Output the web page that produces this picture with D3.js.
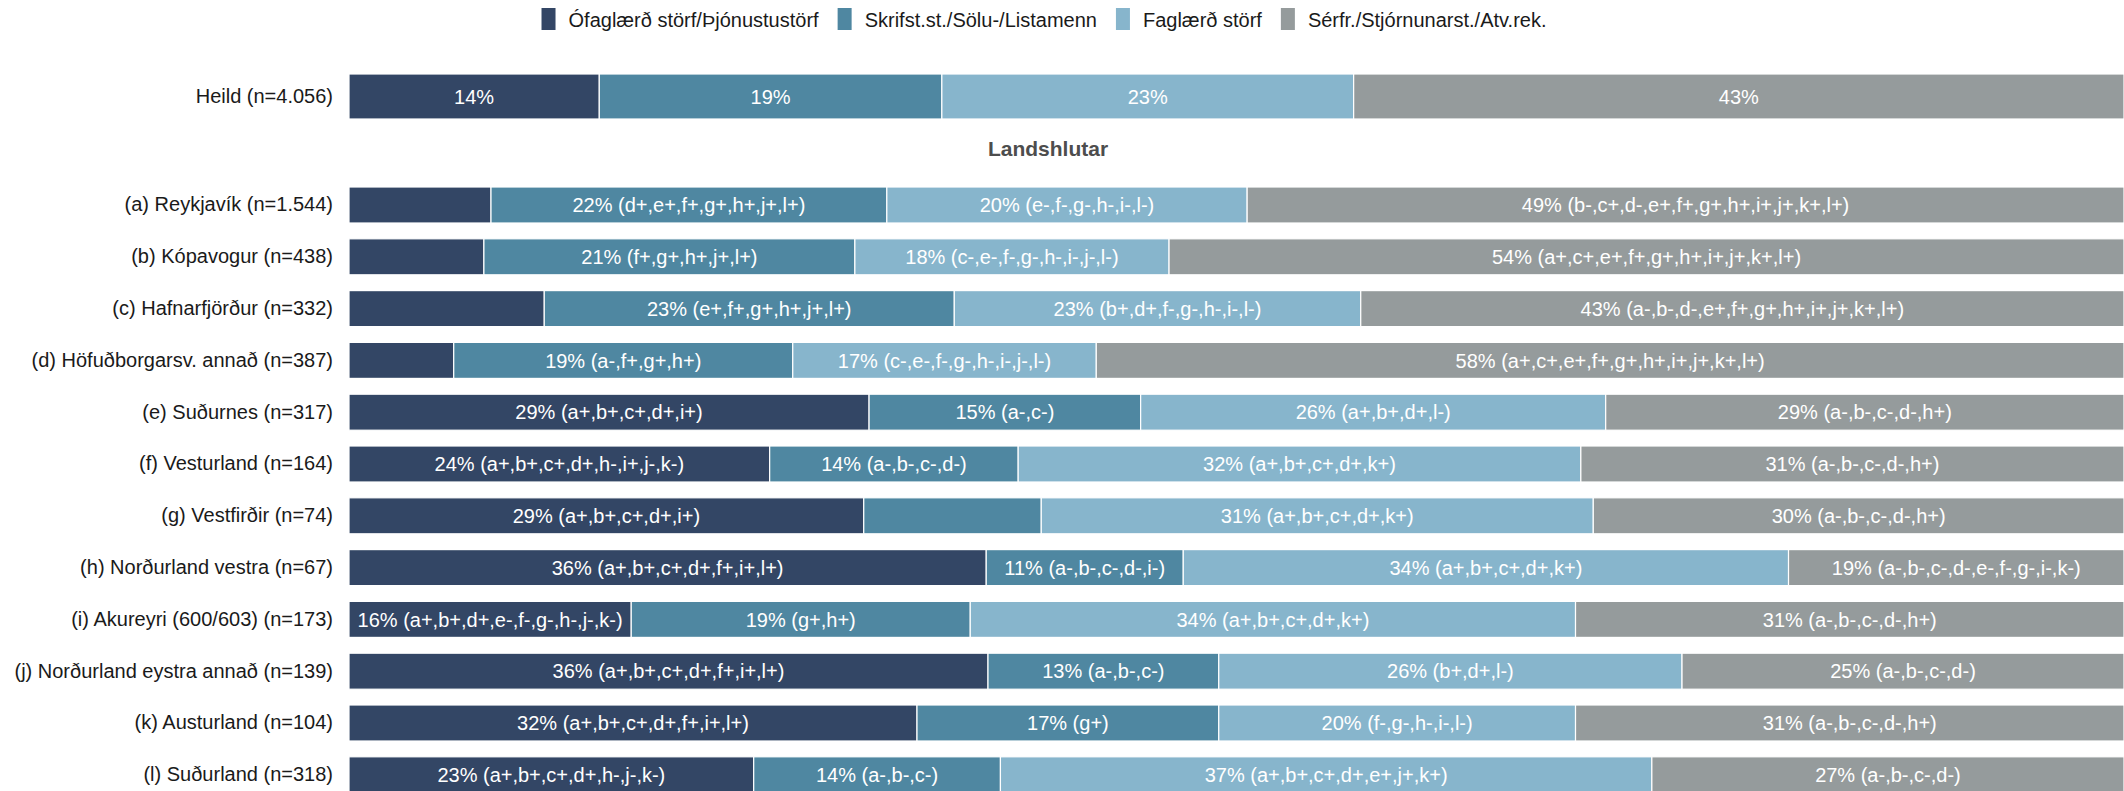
<!DOCTYPE html>
<html>
<head>
<meta charset="utf-8">
<script src="https://cdn.jsdelivr.net/npm/d3@7/dist/d3.min.js"></script>
<style>
  html, body { margin: 0; padding: 0; background: #ffffff; }
  svg { display: block; font-family: "Liberation Sans", Arial, sans-serif; }
</style>
</head>
<body>
<svg id="chart" width="2124" height="791"></svg>
<script>
// Occupational groups (stack order, left to right)
const seriesNames = [
  "Ófaglærð störf/Þjónustustörf",
  "Skrifst.st./Sölu-/Listamenn",
  "Faglærð störf",
  "Sérfr./Stjórnunarst./Atv.rek."
];

// Whole sample
const overallLabel = "Heild (n=4.056)";
const overallValues = [14.1, 19.3, 23.2, 43.4];

// Regions
const sectionTitle = "Landshlutar";
const categories = [
  "(a) Reykjavík (n=1.544)",
  "(b) Kópavogur (n=438)",
  "(c) Hafnarfjörður (n=332)",
  "(d) Höfuðborgarsv. annað (n=387)",
  "(e) Suðurnes (n=317)",
  "(f) Vesturland (n=164)",
  "(g) Vestfirðir (n=74)",
  "(h) Norðurland vestra (n=67)",
  "(i) Akureyri (600/603) (n=173)",
  "(j) Norðurland eystra annað (n=139)",
  "(k) Austurland (n=104)",
  "(l) Suðurland (n=318)"
];

// Shares (%) per region, one array per group
const ofaglaerd = [8.0, 7.6, 11.0, 5.9, 29.3, 23.7, 29.0, 35.9, 15.9, 36.0, 32.0, 22.8];
const skrifst   = [22.3, 20.9, 23.1, 19.1, 15.3, 14.0, 10.0, 11.1, 19.1, 13.0, 17.0, 13.9];
const faglaerd  = [20.3, 17.7, 22.9, 17.1, 26.2, 31.7, 31.1, 34.1, 34.1, 26.1, 20.1, 36.7];
const serfr     = [49.4, 53.8, 43.0, 57.9, 29.2, 30.6, 29.9, 18.9, 30.9, 24.9, 30.9, 26.6];

// Significant differences versus other regions (null = segment left unlabelled)
const ofaglaerdSig = [null, null, null, null,
  "a+,b+,c+,d+,i+", "a+,b+,c+,d+,h-,i+,j-,k-", "a+,b+,c+,d+,i+", "a+,b+,c+,d+,f+,i+,l+",
  "a+,b+,d+,e-,f-,g-,h-,j-,k-", "a+,b+,c+,d+,f+,i+,l+", "a+,b+,c+,d+,f+,i+,l+", "a+,b+,c+,d+,h-,j-,k-"];
const skrifstSig = ["d+,e+,f+,g+,h+,j+,l+", "f+,g+,h+,j+,l+", "e+,f+,g+,h+,j+,l+", "a-,f+,g+,h+",
  "a-,c-", "a-,b-,c-,d-", null, "a-,b-,c-,d-,i-",
  "g+,h+", "a-,b-,c-", "g+", "a-,b-,c-"];
const faglaerdSig = ["e-,f-,g-,h-,i-,l-", "c-,e-,f-,g-,h-,i-,j-,l-", "b+,d+,f-,g-,h-,i-,l-", "c-,e-,f-,g-,h-,i-,j-,l-",
  "a+,b+,d+,l-", "a+,b+,c+,d+,k+", "a+,b+,c+,d+,k+", "a+,b+,c+,d+,k+",
  "a+,b+,c+,d+,k+", "b+,d+,l-", "f-,g-,h-,i-,l-", "a+,b+,c+,d+,e+,j+,k+"];
const serfrSig = ["b-,c+,d-,e+,f+,g+,h+,i+,j+,k+,l+", "a+,c+,e+,f+,g+,h+,i+,j+,k+,l+",
  "a-,b-,d-,e+,f+,g+,h+,i+,j+,k+,l+", "a+,c+,e+,f+,g+,h+,i+,j+,k+,l+",
  "a-,b-,c-,d-,h+", "a-,b-,c-,d-,h+", "a-,b-,c-,d-,h+", "a-,b-,c-,d-,e-,f-,g-,i-,k-",
  "a-,b-,c-,d-,h+", "a-,b-,c-,d-", "a-,b-,c-,d-,h+", "a-,b-,c-,d-"];

const palette = ["#334665", "#4f87a1", "#87b5cc", "#959b9c"];

// ---- build row tables ----
const regionSeries = [ofaglaerd, skrifst, faglaerd, serfr];
const regionSig = [ofaglaerdSig, skrifstSig, faglaerdSig, serfrSig];

function makeRow(name, values, notes, showAll) {
  let acc = 0;
  return values.map((v, k) => {
    const seg = { row: name, key: k, x0: acc, x1: acc + v, value: v, note: notes ? notes[k] : undefined, show: showAll || (notes && notes[k] != null) };
    acc += v;
    return seg;
  });
}

const overallRow = makeRow(overallLabel, overallValues, null, true);
const regionRows = categories.map((c, i) =>
  makeRow(c, regionSeries.map(s => s[i]), regionSig.map(s => s[i]), false));

const svg = d3.select("#chart");
const W = 2124;

const x = d3.scaleLinear().domain([0, 100]).range([349, W]);
const yTop = d3.scaleBand().domain([overallLabel]).range([74, 119]).padding(0);
const yReg = d3.scaleBand().domain(categories).range([179.1, 800.7])
  .paddingInner(0.305).paddingOuter(0.1525);

const pct = v => Math.round(v) + "%";

function drawPanel(rows, y) {
  const g = svg.append("g");
  const rowG = g.selectAll("g.row").data(rows).join("g").attr("class", "row");

  rowG.selectAll("rect").data(d => d).join("rect")
    .attr("x", d => x(d.x0))
    .attr("width", d => x(d.x1) - x(d.x0))
    .attr("y", d => y(d.row))
    .attr("height", y.bandwidth())
    .attr("fill", d => palette[d.key])
    .attr("stroke", "#ffffff")
    .attr("stroke-width", 1.2);

  rowG.selectAll("text").data(d => d.filter(s => s.show)).join("text")
    .attr("x", d => (x(d.x0) + x(d.x1)) / 2)
    .attr("y", d => y(d.row) + y.bandwidth() / 2)
    .attr("dy", "0.36em")
    .attr("text-anchor", "middle")
    .attr("font-size", 20)
    .attr("fill", "#ffffff")
    .text(d => d.note ? `${pct(d.value)} (${d.note})` : pct(d.value));

  // category axis on the left
  const axis = g.append("g")
    .attr("transform", `translate(${x(0)},0)`)
    .call(d3.axisLeft(y).tickSize(0).tickPadding(16));
  axis.select(".domain").remove();
  axis.selectAll("text")
    .attr("font-size", 20)
    .attr("font-family", "'Liberation Sans', Arial, sans-serif")
    .attr("fill", "#1a1a1a");
}

drawPanel([overallRow], yTop);
drawPanel(regionRows, yReg);

// section heading
svg.append("text")
  .attr("x", 1048).attr("y", 156)
  .attr("text-anchor", "middle")
  .attr("font-size", 21)
  .attr("font-weight", "bold")
  .attr("fill", "#4d4d4d")
  .text(sectionTitle);

// legend, centred above the plot
const legendGap = 19;
const legend = svg.append("g");
const items = legend.selectAll("g").data(seriesNames).join("g");
items.append("rect")
  .attr("width", 14).attr("height", 22).attr("y", 8)
  .attr("fill", (d, i) => palette[i]);
items.append("text")
  .attr("x", 27).attr("y", 27)
  .attr("font-size", 20)
  .attr("fill", "#1a1a1a")
  .text(d => d);
let cursor = 0;
items.each(function () {
  const w = d3.select(this).select("text").node().getComputedTextLength();
  d3.select(this).attr("transform", `translate(${cursor},0)`);
  cursor += 27 + w + legendGap;
});
const legendWidth = cursor - legendGap;
legend.attr("transform", `translate(${1044 - legendWidth / 2},0)`);
</script>
</body>
</html>
